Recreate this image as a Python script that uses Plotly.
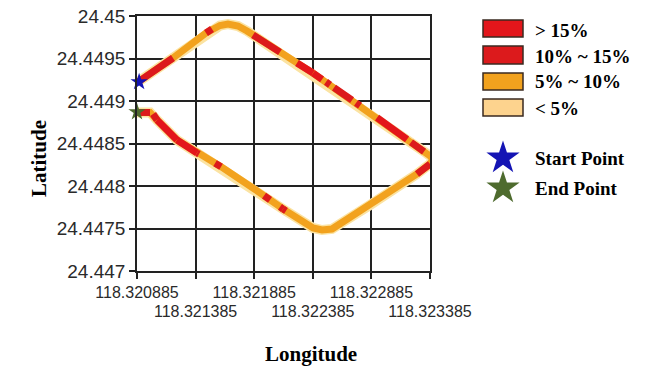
import plotly.graph_objects as go

# ---------------- data ----------------
lon = [118.320894, 118.321192, 118.321474, 118.321525, 118.321593, 118.321661, 118.321747, 118.321824, 118.321875, 118.322105,
       118.322250, 118.322387, 118.322464, 118.322498, 118.322532, 118.322566, 118.322720, 118.322754, 118.322788, 118.322890,
       118.322933, 118.323189, 118.323223, 118.323334, 118.323385, 118.323411, 118.323385, 118.323274, 118.322873, 118.322634,
       118.322549, 118.322464, 118.322387, 118.322156, 118.322131, 118.322105, 118.322020, 118.321969, 118.321875, 118.321602,
       118.321551, 118.321414, 118.321397, 118.321226, 118.321056, 118.321022, 118.320996, 118.320885]
lat = [24.449224, 24.449506, 24.449800, 24.449847, 24.449888, 24.449906, 24.449882, 24.449824, 24.449776, 24.449575,
       24.449448, 24.449329, 24.449255, 24.449224, 24.449191, 24.449158, 24.449011, 24.448978, 24.448945, 24.448847,
       24.448805, 24.448549, 24.448515, 24.448405, 24.448353, 24.448318, 24.448259, 24.448141, 24.447776, 24.447565,
       24.447494, 24.447482, 24.447506, 24.447707, 24.447729, 24.447754, 24.447836, 24.447886, 24.447976, 24.448227,
       24.448268, 24.448375, 24.448388, 24.448541, 24.448776, 24.448847, 24.448865, 24.448865]
# class of each segment between consecutive points
seg_class = ["10% ~ 15%", "5% ~ 10%", "10% ~ 15%", "5% ~ 10%", "5% ~ 10%", "5% ~ 10%", "5% ~ 10%", "5% ~ 10%",
             "10% ~ 15%", "5% ~ 10%", "> 15%", "> 15%", "5% ~ 10%", "10% ~ 15%", "5% ~ 10%", "10% ~ 15%",
             "5% ~ 10%", "10% ~ 15%", "5% ~ 10%", "5% ~ 10%", "> 15%", "5% ~ 10%", "10% ~ 15%", "5% ~ 10%",
             "5% ~ 10%", "5% ~ 10%", "10% ~ 15%", "5% ~ 10%", "5% ~ 10%", "5% ~ 10%", "5% ~ 10%", "5% ~ 10%",
             "5% ~ 10%", "10% ~ 15%", "10% ~ 15%", "5% ~ 10%", "10% ~ 15%", "5% ~ 10%", "5% ~ 10%", "10% ~ 15%",
             "5% ~ 10%", "10% ~ 15%", "> 15%", "> 15%", "10% ~ 15%", "5% ~ 10%", "10% ~ 15%"]
start_point = (118.320903, 24.449224)
end_point = (118.320885, 24.448870)

x_ticks = [118.320885, 118.321385, 118.321885, 118.322385, 118.322885, 118.323385]
x_tick_labels = ["118.320885", "118.321385", "118.321885", "118.322385", "118.322885", "118.323385"]
y_ticks = [24.447, 24.4475, 24.448, 24.4485, 24.449, 24.4495, 24.45]
y_tick_labels = ["24.447", "24.4475", "24.448", "24.4485", "24.449", "24.4495", "24.45"]

legend_classes = ["> 15%", "10% ~ 15%", "5% ~ 10%", "< 5%"]
class_colors = {"> 15%": "#E3161B", "10% ~ 15%": "#DC1A1C", "5% ~ 10%": "#F2A21E", "< 5%": "#FDD38E"}
start_color, end_color = "#1414B4", "#4E6B2E"

# ---------------- figure geometry (pixels) ----------------
W, H = 645, 371
ML, MT, MB = 137, 16, 100
PLOT_W = 293
PAPER_W, PAPER_H = W - ML, H - MT - MB


def px(xp):
    return (xp - ML) / PAPER_W


def py(yp):
    return (H - MB - yp) / PAPER_H


fig = go.Figure()

# halo + base path
fig.add_trace(go.Scatter(x=lon, y=lat, mode="lines", line=dict(color="#FBE3A2", width=10),
                         hoverinfo="skip", showlegend=False))
fig.add_trace(go.Scatter(x=lon, y=lat, mode="lines", line=dict(color=class_colors["5% ~ 10%"], width=7),
                         showlegend=False))

for cls in ["10% ~ 15%", "> 15%"]:
    xs, ys = [], []
    for i, c in enumerate(seg_class):
        if c == cls:
            xs += [lon[i], lon[i + 1], None]
            ys += [lat[i], lat[i + 1], None]
    fig.add_trace(go.Scatter(x=xs, y=ys, mode="lines", line=dict(color=class_colors[cls], width=7),
                             showlegend=False))

fig.add_trace(go.Scatter(x=[end_point[0]], y=[end_point[1]], mode="markers",
                         marker=dict(symbol="star", size=13, color=end_color), showlegend=False,
                         cliponaxis=False))
fig.add_trace(go.Scatter(x=[start_point[0]], y=[start_point[1]], mode="markers",
                         marker=dict(symbol="star", size=13, color=start_color), showlegend=False,
                         cliponaxis=False))

# second x axis only for the staggered (second-row) tick labels
fig.add_trace(go.Scatter(x=[x_ticks[0]], y=[y_ticks[0]], xaxis="x2", mode="markers",
                         marker=dict(opacity=0), hoverinfo="skip", showlegend=False))

# legend stars on a small hidden axis pair placed over the legend area (pixel units)
LX0, LX1, LY0, LY1 = 483, 530, 140, 205
fig.add_trace(go.Scatter(x=[503, 503], y=[158, 188], xaxis="x3", yaxis="y3", mode="markers",
                         marker=dict(symbol="star", size=25, color=[start_color, end_color]),
                         hoverinfo="skip", showlegend=False, cliponaxis=False))

dom_x = [0, PLOT_W / PAPER_W]
axis_common = dict(showline=True, linecolor="#222", linewidth=1.6, mirror=True,
                   showgrid=True, gridcolor="#222", gridwidth=1.6, automargin=False,
                   ticks="outside", tickcolor="#222", ticklen=6, tickwidth=1.5, zeroline=False)
tick_font_x = dict(family="Liberation Sans", size=16, color="#2a2a2a")

fig.update_layout(
    xaxis=dict(domain=dom_x, range=[x_ticks[0], x_ticks[-1]], tickmode="array", tickvals=x_ticks,
               ticktext=[t if i % 2 == 0 else "" for i, t in enumerate(x_tick_labels)],
               tickangle=0, tickfont=tick_font_x, **axis_common),
    xaxis2=dict(domain=dom_x, overlaying="x", anchor="y", side="bottom", range=[x_ticks[0], x_ticks[-1]],
                tickmode="array", tickvals=x_ticks[1::2], ticktext=x_tick_labels[1::2], tickangle=0,
                ticks="outside", ticklen=6, tickcolor="rgba(0,0,0,0)", ticklabelstandoff=20,
                showgrid=False, showline=False, zeroline=False, automargin=False, tickfont=tick_font_x),
    yaxis=dict(domain=[0, 1], range=[y_ticks[0], y_ticks[-1]], tickmode="array", tickvals=y_ticks,
               ticktext=y_tick_labels, tickfont=dict(family="Liberation Sans", size=19, color="#2a2a2a"),
               **axis_common),
    xaxis3=dict(domain=[px(LX0), px(LX1)], range=[LX0, LX1], visible=False, anchor="y3", fixedrange=True),
    yaxis3=dict(domain=[py(LY1), py(LY0)], range=[LY1, LY0], visible=False, anchor="x3", fixedrange=True),
)

annotations = [
    dict(text="<b>Latitude</b>", x=px(25), y=py(159), textangle=-90,
         font=dict(family="Liberation Serif", size=21, color="black")),
    dict(text="<b>Longitude</b>", x=px(263), y=py(354),
         font=dict(family="Liberation Serif", size=21, color="black")),
]
shapes = []
box_rows = [(20, 37), (46, 64), (73, 90), (99, 116)]
text_rows = [30, 56, 82, 108]
for cls, (y0, y1), ty in zip(legend_classes, box_rows, text_rows):
    shapes.append(dict(type="rect", xref="paper", yref="paper", x0=px(483), x1=px(523), y0=py(y1), y1=py(y0),
                       fillcolor=class_colors[cls], line=dict(color="#3a2a20", width=1.5)))
    annotations.append(dict(text="<b>%s</b>" % cls, x=px(533), y=py(ty), xanchor="left",
                            font=dict(family="Liberation Serif", size=19, color="black")))
for label, ty in [("Start Point", 158), ("End Point", 188)]:
    annotations.append(dict(text="<b>%s</b>" % label, x=px(533), y=py(ty), xanchor="left",
                            font=dict(family="Liberation Serif", size=19, color="black")))

for a in annotations:
    a.setdefault("xref", "paper")
    a.setdefault("yref", "paper")
    a.setdefault("showarrow", False)
    a.setdefault("yanchor", "middle")

fig.update_layout(width=W, height=H, margin=dict(l=ML, r=0, t=MT, b=MB, pad=0, autoexpand=False),
                  paper_bgcolor="white", plot_bgcolor="white",
                  annotations=annotations, shapes=shapes, showlegend=False)

fig.write_html("out.html", config={"displayModeBar": False},
               post_script="document.body.style.margin='0';")
